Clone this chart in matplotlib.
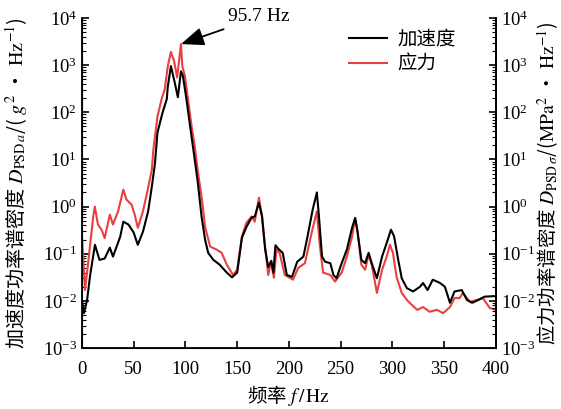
import numpy as np
import matplotlib
matplotlib.use("Agg")
import matplotlib.pyplot as plt
from matplotlib.ticker import LogLocator, NullFormatter

plt.rcParams['font.family'] = ['Liberation Serif', 'Noto Sans CJK SC']
plt.rcParams['mathtext.fontset'] = 'stix'

# Acceleration PSD (black), log10 values
acc_freq = [0, 2, 5, 8, 12.6, 17, 22, 27, 30, 37, 40, 45, 50, 54, 59, 64, 67.6, 70.5, 73, 78,
            82, 83, 86, 90, 92.7, 95.7, 97.6, 101, 104, 109, 112, 115.6, 119, 122, 127, 133,
            140, 145, 150, 154.6, 159, 164, 167, 171, 174, 177, 180, 183, 185, 187, 190, 194,
            198, 203, 208, 214, 218, 223, 227, 229, 232, 235, 240, 243, 246, 251, 256, 261,
            264, 266, 270, 273.6, 277, 280, 285, 290, 294.5, 298.6, 301.6, 305.6, 309, 314,
            320, 326.6, 329.6, 334, 339, 346, 350.7, 355.6, 360, 367, 372, 377, 383, 389, 397, 400]
acc_log10 = [-1.98, -2.26, -1.98, -1.45, -0.81, -1.13, -1.10, -0.87, -1.06, -0.64, -0.32, -0.38,
             -0.55, -0.81, -0.53, -0.10, 0.43, 0.90, 1.57, 2.00,
             2.28, 2.55, 2.98, 2.60, 2.32, 2.87, 2.77, 2.28, 1.79, 1.00, 0.51, -0.21, -0.70,
             -0.98, -1.13, -1.23,
             -1.40, -1.50, -1.40, -0.66, -0.43, -0.23, -0.21, 0.08, -0.20, -0.90, -1.28, -1.15,
             -1.40, -0.82, -0.90, -0.98,
             -1.45, -1.49, -1.17, -1.06, -0.63, -0.06, 0.30, -0.20, -1.06, -1.17, -1.20, -1.45,
             -1.52, -1.20, -0.91, -0.45,
             -0.24, -0.49, -1.13, -1.20, -0.98, -1.20, -1.52, -1.06, -0.77, -0.49, -0.63, -1.13,
             -1.52, -1.73,
             -1.80, -1.70, -1.62, -1.77, -1.55, -1.62, -1.70, -2.04, -1.80, -1.77, -1.98, -2.04,
             -1.98, -1.91, -1.90, -1.90]

# Stress PSD (red), log10 values
str_freq = [0, 3, 6, 11, 12.5, 15.5, 19, 22, 27, 30, 35, 40, 43, 48, 51, 54, 59, 64, 67.6, 69,
            73, 77, 80, 83, 86, 89, 92, 95.7, 97, 99.5, 102.5, 106, 109, 112, 116, 119, 124,
            130, 135, 140, 146, 150, 154.6, 159, 164, 167, 171, 174, 177, 180, 182.6, 185.5,
            188, 191, 196, 204, 209, 215.5, 222, 227, 230, 233, 240, 244.5, 251, 256, 261,
            264, 266.5, 270, 273.6, 277, 280, 285, 290, 294.5, 297.6, 300.5, 304, 309, 314,
            319, 324, 329.6, 336, 343, 349, 355.6, 360, 365, 368, 375, 381.6, 387.4, 394, 400]
str_log10 = [-0.60, -1.77, -1.20, -0.20, 0.00, -0.38, -0.49, -0.67, -0.17, -0.38, -0.10, 0.36,
             0.15, 0.04, -0.17, -0.45, -0.10, 0.40, 0.79, 1.20,
             1.91, 2.28, 2.49, 2.98, 3.28, 3.09, 2.74, 3.45, 2.98, 2.77, 2.28, 1.70, 1.28, 0.75,
             0.15, -0.43, -0.85,
             -0.91, -0.98, -1.23, -1.45, -1.34, -0.63, -0.34, -0.21, -0.32, 0.19, -0.21, -0.85,
             -1.45, -1.17, -1.51,
             -0.91, -0.98, -1.45, -1.55, -1.30, -1.20, -0.55, -0.10, -0.85, -1.40, -1.45, -1.59,
             -1.40, -1.06, -0.64,
             -0.24, -0.56, -1.23, -1.34, -1.02, -1.23, -1.83, -1.34, -1.06, -0.81, -0.98, -1.49,
             -1.83, -1.98,
             -2.09, -2.19, -2.13, -2.23, -2.19, -2.26, -2.13, -1.94, -1.94, -1.83, -2.02, -1.98,
             -1.94, -2.15, -2.19]

peak_freq = 95.7
peak_label = "95.7 Hz"
x_ticks = [0, 50, 100, 150, 200, 250, 300, 350, 400]

CJK = ['Noto Sans CJK SC', 'Liberation Serif']

fig = plt.figure(figsize=(5.61, 4.09), dpi=100)
ax = fig.add_axes([0.146, 0.149, 0.738, 0.807])

ax.plot(acc_freq, np.power(10.0, acc_log10), color='black', lw=1.5, label='加速度', zorder=3)
ax.plot(str_freq, np.power(10.0, str_log10), color='#e8403f', lw=1.5, label='应力', zorder=2)

ax.set_yscale('log')
ax.set_xlim(0, 400)
ax.set_ylim(1e-3, 1e4)
ax.set_xticks(x_ticks)
ax.yaxis.set_major_locator(LogLocator(base=10, numticks=20))
ax.yaxis.set_minor_locator(LogLocator(base=10, subs=np.arange(2, 10), numticks=100))
ax.yaxis.set_minor_formatter(NullFormatter())

ax.spines['top'].set_visible(False)
for s in ['left', 'right', 'bottom']:
    ax.spines[s].set_linewidth(1.3)

ax.tick_params(axis='both', which='major', direction='in', labelsize=13.5, width=1.2, length=5)
ax.tick_params(axis='x', which='major', pad=9)
ax.tick_params(axis='y', which='minor', direction='in', width=0.8, length=3)
ax.tick_params(axis='x', which='both', top=False)

ax2 = ax.twinx()
ax2.set_yscale('log')
ax2.set_ylim(1e-3, 1e4)
ax2.yaxis.set_major_locator(LogLocator(base=10, numticks=20))
ax2.yaxis.set_minor_locator(LogLocator(base=10, subs=np.arange(2, 10), numticks=100))
ax2.yaxis.set_minor_formatter(NullFormatter())
ax2.spines['top'].set_visible(False)
ax2.spines['right'].set_linewidth(1.3)
ax2.tick_params(axis='y', which='major', direction='in', labelsize=13.5, width=1.2, length=5)
ax2.tick_params(axis='y', which='minor', direction='in', width=0.8, length=3)

ax.set_xlabel('频率 $f\\,/\\,\\mathrm{Hz}$', fontsize=14, labelpad=4, family=CJK)
ax.set_ylabel('加速度功率谱密度 $D_{\\mathrm{PSD}\\,a}$/( $g^2$ • $\\mathrm{Hz}^{-1}$)',
              fontsize=14.5, family=CJK, va='center')
ax2.set_ylabel('应力功率谱密度 $D_{\\mathrm{PSD}\\,\\sigma}$/($\\mathrm{MPa}^2$ • $\\mathrm{Hz}^{-1}$)',
               fontsize=14, rotation=90, family=CJK, va='center')
ax.yaxis.set_label_coords(-0.158, 0.5)
ax2.yaxis.set_label_coords(1.125, 0.5)

ax.annotate(peak_label, xy=(peak_freq, 2.8e3), xytext=(141, 1.05e4),
            fontsize=14, ha='left', va='center', annotation_clip=False,
            arrowprops=dict(arrowstyle='-|>,head_length=1.0,head_width=0.4',
                            color='black', lw=1.3, shrinkA=2, shrinkB=0))

leg = ax.legend(loc='upper right', bbox_to_anchor=(0.945, 1.02), frameon=False,
                handlelength=2.0, handletextpad=0.5, labelspacing=0.2, prop={'family': CJK, 'size': 14})

fig.savefig('out.png', dpi=100)
